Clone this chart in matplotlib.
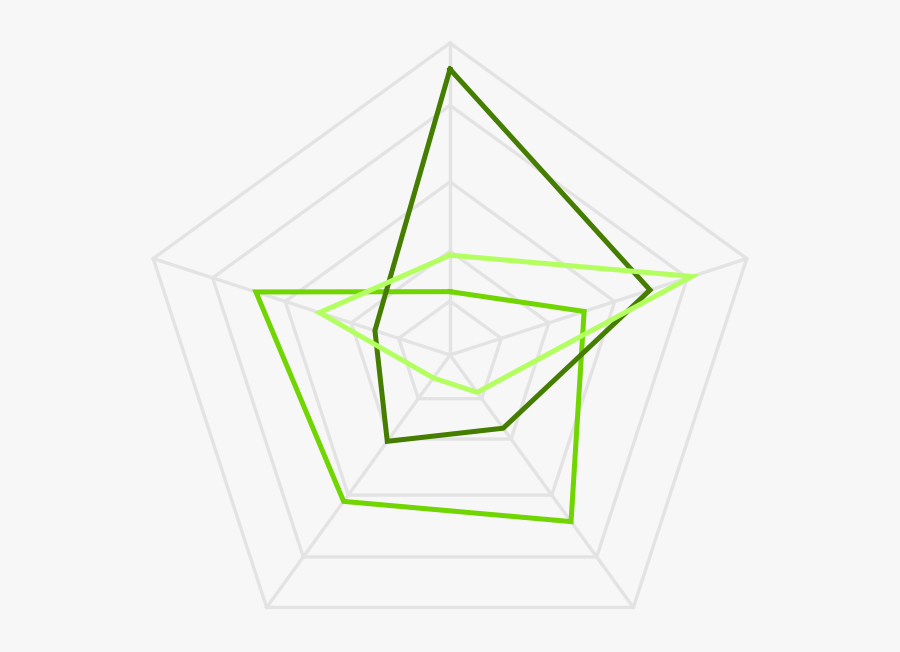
import numpy as np
import matplotlib
matplotlib.use("Agg")
import matplotlib.pyplot as plt

# five spokes, clockwise from the top
axes_labels = ["A", "B", "C", "D", "E"]

# radius fractions of the grid rings
ring_levels = [0.173, 0.333, 0.555, 0.8, 1.0]

# series values as fraction of the outer radius
series_dark = [0.916, 0.674, 0.29, 0.342, 0.253]
series_mid = [0.203, 0.452, 0.66, 0.58, 0.654]
series_light = [0.32, 0.815, 0.148, 0.091, 0.44]

colors = {"dark": "#447d00", "mid": "#70d500", "light": "#b3ff5f"}
bg = "#f7f7f7"
grid_color = "#e3e3e3"

fig = plt.figure(figsize=(9, 6.52), dpi=100, facecolor=bg)
# centre at (450, 355) px, radius 312 px
cx, cy, R = 450, 355, 312
W, H = 900, 652
ax = fig.add_axes([(cx - R) / W, (H - cy - R) / H, 2 * R / W, 2 * R / H],
                  projection="polar")
ax.set_facecolor("none")
ax.set_theta_offset(np.pi / 2)
ax.set_theta_direction(-1)
ax.set_ylim(0, 1)
ax.grid(False)
ax.spines["polar"].set_visible(False)
ax.set_xticks([])
ax.set_yticks([])

n = len(axes_labels)
theta = np.arange(n) * 2 * np.pi / n
theta_closed = np.append(theta, theta[0])

# pentagon grid
for lvl in ring_levels:
    ax.plot(theta_closed, [lvl] * (n + 1), color=grid_color, lw=2.4,
            solid_joinstyle="miter", zorder=1, clip_on=False)
for t in theta:
    ax.plot([t, t], [0, 1], color=grid_color, lw=2.4, zorder=1, clip_on=False)


def draw_series(values, color, z):
    vals = list(values) + [values[0]]
    ax.plot(theta_closed, vals, color=color, lw=3.6,
            solid_joinstyle="miter", zorder=z, clip_on=False)


draw_series(series_mid, colors["mid"], 3)
draw_series(series_dark, colors["dark"], 4)
draw_series(series_light, colors["light"], 5)

fig.savefig("out.png", dpi=100, facecolor=bg)
